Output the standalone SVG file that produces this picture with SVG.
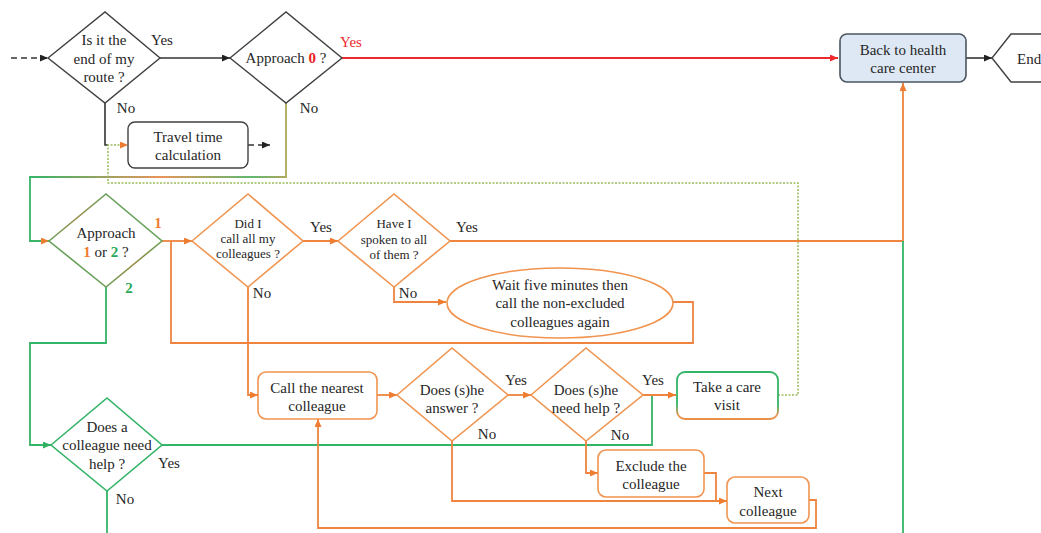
<svg xmlns="http://www.w3.org/2000/svg" width="1041" height="533" viewBox="0 0 1041 533">
<defs>
<style>
.t{font-family:"Liberation Serif","Times New Roman",serif;font-size:15px;fill:#262626;text-anchor:middle}
.s{font-size:13px}
.k{fill:none;stroke:#333;stroke-width:1.6}
.o{fill:none;stroke:#ee8440;stroke-width:1.8}
.g{fill:none;stroke:#34b468;stroke-width:1.8}
.r{fill:none;stroke:#ee2a2a;stroke-width:1.8}
.nk{fill:#fff;stroke:#404040;stroke-width:1.4}
.no{fill:#fff;stroke:#f0944f;stroke-width:1.6}
.ng{fill:#fff;stroke:#34b468;stroke-width:1.6}
.ob{fill:#ee7d31;font-weight:bold}
.gb{fill:#2aaa58;font-weight:bold}
.rb{fill:#ee1c1c;font-weight:bold}
</style>
<marker id="ak" markerUnits="userSpaceOnUse" markerWidth="8" markerHeight="7" refX="8" refY="3.5" orient="auto"><path d="M0,0 L8,3.5 L0,7 z" fill="#222"/></marker>
<marker id="ar" markerUnits="userSpaceOnUse" markerWidth="8" markerHeight="7" refX="8" refY="3.5" orient="auto"><path d="M0,0 L8,3.5 L0,7 z" fill="#ee2a2a"/></marker>
<marker id="ao" markerUnits="userSpaceOnUse" markerWidth="8" markerHeight="7" refX="8" refY="3.5" orient="auto"><path d="M0,0 L8,3.5 L0,7 z" fill="#ee7d31"/></marker>
<marker id="ag" markerUnits="userSpaceOnUse" markerWidth="8" markerHeight="7" refX="8" refY="3.5" orient="auto"><path d="M0,0 L8,3.5 L0,7 z" fill="#2faf60"/></marker>
<linearGradient id="mix" gradientUnits="userSpaceOnUse" x1="30" y1="0" x2="290" y2="0">
<stop offset="0" stop-color="#34b468"/><stop offset="0.5" stop-color="#e8955a"/><stop offset="0.85" stop-color="#5fb870"/><stop offset="1" stop-color="#b5a55a"/>
</linearGradient>
<linearGradient id="dmix" x1="1" y1="0" x2="0" y2="1">
<stop offset="0" stop-color="#34b468"/><stop offset="0.5" stop-color="#9a8c48"/><stop offset="1" stop-color="#34b468"/>
</linearGradient>
<linearGradient id="bmix" x1="0" y1="0" x2="0" y2="1">
<stop offset="0" stop-color="#34b468"/><stop offset="0.7" stop-color="#34b468"/><stop offset="0.92" stop-color="#e8904a"/><stop offset="1" stop-color="#e8904a"/>
</linearGradient>
</defs>

<g id="connectors">
<path class="k" d="M11,58 H48" stroke-dasharray="6,4" marker-end="url(#ak)"/>
<path class="k" d="M160,58 H230" marker-end="url(#ak)"/>
<path class="k" d="M105,103 V145 H108"/>
<path class="k" d="M248,145 H270" stroke-dasharray="6,4" marker-end="url(#ak)"/>
<path class="r" d="M342,58 H838" marker-end="url(#ar)"/>
<path class="k" d="M966,58 H992" stroke-width="2" marker-end="url(#ak)"/>
<path d="M778,395 H798 V183 H108 V145 H128" fill="none" stroke="#9bbb59" stroke-width="1.5" stroke-dasharray="2,1.5" marker-end="url(#ao)"/>
<path d="M286,103 V177 H30 V241 H49" fill="none" stroke="url(#mix)" stroke-width="1.8" marker-end="url(#ao)"/>
<path class="o" d="M162,241 H192" marker-end="url(#ao)"/>
<path class="o" d="M673,302 H693 V343 H171 V241"/>
<path class="o" d="M303,241 H338" marker-end="url(#ao)"/>
<path class="o" d="M450,241 H903 V83" marker-end="url(#ao)"/>
<path class="o" d="M394,287 V302 H446" marker-end="url(#ao)"/>
<path class="o" d="M248,287 V395 H258" marker-end="url(#ao)"/>
<path class="g" d="M106,287 V343 H30 V445 H51" marker-end="url(#ag)"/>
<path class="g" d="M162,445 H652 V395"/>
<path class="g" d="M107,491 V533"/>
<path class="g" d="M903,533 V241"/>
<path class="o" d="M377,395 H397" marker-end="url(#ao)"/>
<path class="o" d="M508,395 H531" marker-end="url(#ao)"/>
<path class="o" d="M643,395 H676" marker-end="url(#ao)"/>
<path class="o" d="M452,441 V501 H727" marker-end="url(#ao)"/>
<path class="o" d="M586,441 V473 H598" marker-end="url(#ao)"/>
<path class="o" d="M704,473 H716 V501"/>
<path class="o" d="M809,500 H816 V528 H318 V419" marker-end="url(#ao)"/>
</g>

<g id="labels">
<text class="t" x="162" y="45">Yes</text>
<text class="t" x="351" y="47" style="fill:#ee2a2a">Yes</text>
<text class="t" x="126" y="113">No</text>
<text class="t" x="309" y="113">No</text>
<text class="t ob" x="158" y="228">1</text>
<text class="t gb" x="129" y="293">2</text>
<text class="t" x="321" y="232">Yes</text>
<text class="t" x="262" y="298">No</text>
<text class="t" x="408" y="298">No</text>
<text class="t" x="467" y="232">Yes</text>
<text class="t" x="516" y="385">Yes</text>
<text class="t" x="653" y="385">Yes</text>
<text class="t" x="487" y="439">No</text>
<text class="t" x="620" y="440">No</text>
<text class="t" x="169" y="468">Yes</text>
<text class="t" x="125" y="504">No</text>
</g>

<g id="n-end-route">
<polygon class="nk" points="48,58 105,12 160,58 105,103"/>
<text class="t" x="104" y="45">Is it the</text>
<text class="t" x="104" y="64">end of my</text>
<text class="t" x="104" y="82">route ?</text>
</g>
<g id="n-approach0">
<polygon class="nk" points="230,58 286,12 342,58 286,103"/>
<text class="t" x="286" y="63">Approach <tspan class="rb">0</tspan> ?</text>
</g>
<g id="n-travel">
<rect class="nk" x="128" y="122" width="120" height="46" rx="7"/>
<text class="t" x="188" y="142">Travel time</text>
<text class="t" x="188" y="160">calculation</text>
</g>
<g id="n-back">
<rect x="840" y="34" width="126" height="48" rx="7" fill="#dde8f4" stroke="#4a5560" stroke-width="1.6"/>
<text class="t" x="903" y="55">Back to health</text>
<text class="t" x="903" y="73">care center</text>
</g>
<g id="n-end">
<polygon points="1060,34 1011,34 992,58 1011,82 1060,82" fill="#fff" stroke="#404040" stroke-width="1.4"/>
<text class="t" x="1017" y="64" style="text-anchor:start">End</text>
</g>
<g id="n-approach12">
<polygon points="49,241 106,194 162,241 106,287" fill="#fff" stroke="url(#dmix)" stroke-width="1.6"/>
<text class="t" x="106" y="238">Approach</text>
<text class="t" x="106" y="257"><tspan class="ob">1</tspan> or <tspan class="gb">2</tspan> ?</text>
</g>
<g id="n-callall">
<polygon class="no" points="192,241 248,194 303,241 248,287"/>
<text class="t s" x="248" y="228">Did I</text>
<text class="t s" x="248" y="243">call all my</text>
<text class="t s" x="248" y="258">colleagues ?</text>
</g>
<g id="n-spoken">
<polygon class="no" points="338,241 394,194 450,241 394,287"/>
<text class="t s" x="394" y="228">Have I</text>
<text class="t s" x="394" y="244">spoken to all</text>
<text class="t s" x="394" y="259">of them ?</text>
</g>
<g id="n-wait">
<ellipse class="no" cx="560" cy="303" rx="113" ry="35"/>
<text class="t" x="560" y="290">Wait five minutes then</text>
<text class="t" x="560" y="308">call the non-excluded</text>
<text class="t" x="560" y="327">colleagues again</text>
</g>
<g id="n-needhelp-any">
<polygon class="ng" points="51,445 107,398 162,445 107,491"/>
<text class="t" x="107" y="432">Does a</text>
<text class="t" x="107" y="450">colleague need</text>
<text class="t" x="107" y="469">help ?</text>
</g>
<g id="n-callnearest">
<rect class="no" x="258" y="372" width="119" height="47" rx="8"/>
<text class="t" x="317" y="393">Call the nearest</text>
<text class="t" x="317" y="411">colleague</text>
</g>
<g id="n-answer">
<polygon class="no" points="397,395 452,348 508,395 452,441"/>
<text class="t" x="452" y="395">Does (s)he</text>
<text class="t" x="452" y="413">answer ?</text>
</g>
<g id="n-needhelp">
<polygon class="no" points="531,395 586,348 643,395 586,441"/>
<text class="t" x="586" y="395">Does (s)he</text>
<text class="t" x="586" y="413">need help ?</text>
</g>
<g id="n-visit">
<rect x="677" y="372" width="101" height="47" rx="8" fill="#fff" stroke="url(#bmix)" stroke-width="1.8"/>
<text class="t" x="727" y="392">Take a care</text>
<text class="t" x="727" y="410">visit</text>
</g>
<g id="n-exclude">
<rect class="no" x="598" y="450" width="106" height="47" rx="8"/>
<text class="t" x="651" y="471">Exclude the</text>
<text class="t" x="651" y="489">colleague</text>
</g>
<g id="n-next">
<rect class="no" x="727" y="477" width="82" height="46" rx="8"/>
<text class="t" x="768" y="497">Next</text>
<text class="t" x="768" y="516">colleague</text>
</g>
</svg>
